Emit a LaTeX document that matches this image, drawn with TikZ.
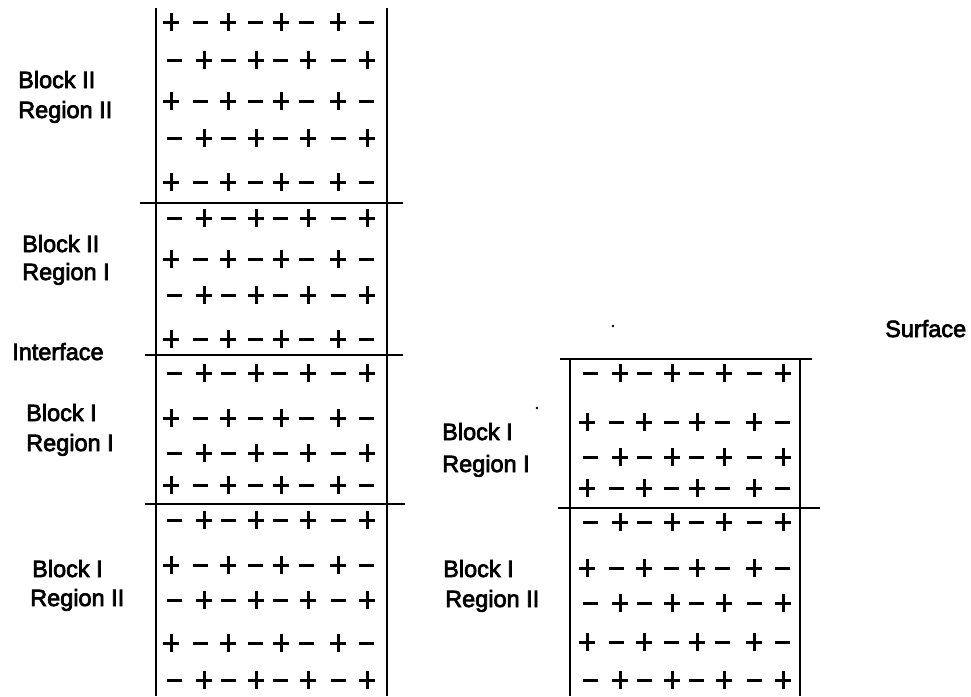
\documentclass[tikz,border=0pt]{standalone}
\usepackage{fontspec}
\setmainfont{Liberation Sans}
\newfontfamily\lblfont[FakeBold=3]{Liberation Sans}
\begin{document}
\begin{tikzpicture}[x=1pt,y=-1pt,line cap=butt,
  frame/.style={line width=2.4pt},
  sign/.style={line width=3pt},
  lbl/.style={anchor=base west,inner sep=0pt,font=\lblfont\fontsize{23.5}{30}\selectfont},
  plussign/.pic={\draw[sign] (-8,0)--(8,0) (0,-9)--(0,9);},
  minussign/.pic={\draw[sign] (-7.5,0)--(7.5,0);}]
\useasboundingbox (0,0) rectangle (971,696);
\newcommand\rowA[2]{%
  \foreach \d in {15,72,125,182}{\pic at ({#1+\d},#2) {plussign};}%
  \foreach \d in {44,99,150,210}{\pic at ({#1+\d},#2) {minussign};}}
\newcommand\rowB[2]{%
  \foreach \d in {18,72,124,182}{\pic at ({#1+\d},#2) {minussign};}%
  \foreach \d in {48,100,152,211}{\pic at ({#1+\d},#2) {plussign};}}
% left column frame
\draw[frame] (156,8) -- (156,696);
\draw[frame] (387,8) -- (387,696);
\draw[frame] (140,203) -- (403,203);
\draw[frame] (145,355) -- (403,355);
\draw[frame] (145,504) -- (405,504);
% right column frame
\draw[frame] (570,359) -- (570,696);
\draw[frame] (800,359) -- (800,696);
\draw[frame] (560,359) -- (812,359);
\draw[frame] (558,508) -- (820,508);
% left column signs
\rowA{156}{22}\rowB{156}{60}\rowA{156}{101}\rowB{156}{138}\rowA{156}{182}
\rowB{156}{218}\rowA{156}{259}\rowB{156}{295}\rowA{156}{339}
\rowB{156}{373}\rowA{156}{418}\rowB{156}{453}\rowA{156}{485}
\rowB{156}{520}\rowA{156}{565}\rowB{156}{600}\rowA{156}{643}\rowB{156}{680}
% right column signs
\rowB{572}{373}\rowA{572}{422}\rowB{572}{457}\rowA{572}{488}
\rowB{572}{522}\rowA{572}{568}\rowB{572}{603}\rowA{572}{642}\rowB{572}{680}
% labels
\node[lbl] (b2r2a) at (18,88) {Block II};
\node[lbl] (b2r2b) at (18,118) {Region II};
\node[lbl] (b2r1a) at (22,252) {Block II};
\node[lbl] (b2r1b) at (22,280) {Region I};
\node[lbl] (intf) at (12,360) {Interface};
\node[lbl] (b1r1a) at (26,421) {Block I};
\node[lbl] (b1r1b) at (26,451) {Region I};
\node[lbl] (b1r2a) at (32,577) {Block I};
\node[lbl] (b1r2b) at (30,606) {Region II};
\node[lbl] (rb1r1a) at (442,440) {Block I};
\node[lbl] (rb1r1b) at (442,472) {Region I};
\node[lbl] (rb1r2a) at (443,577) {Block I};
\node[lbl] (rb1r2b) at (445,607) {Region II};
\node[lbl] (surf) at (885,337) {Surface};
% specks
\fill (537,408) circle (1.3);
\fill (613,326) circle (1.3);
\end{tikzpicture}
\end{document}
